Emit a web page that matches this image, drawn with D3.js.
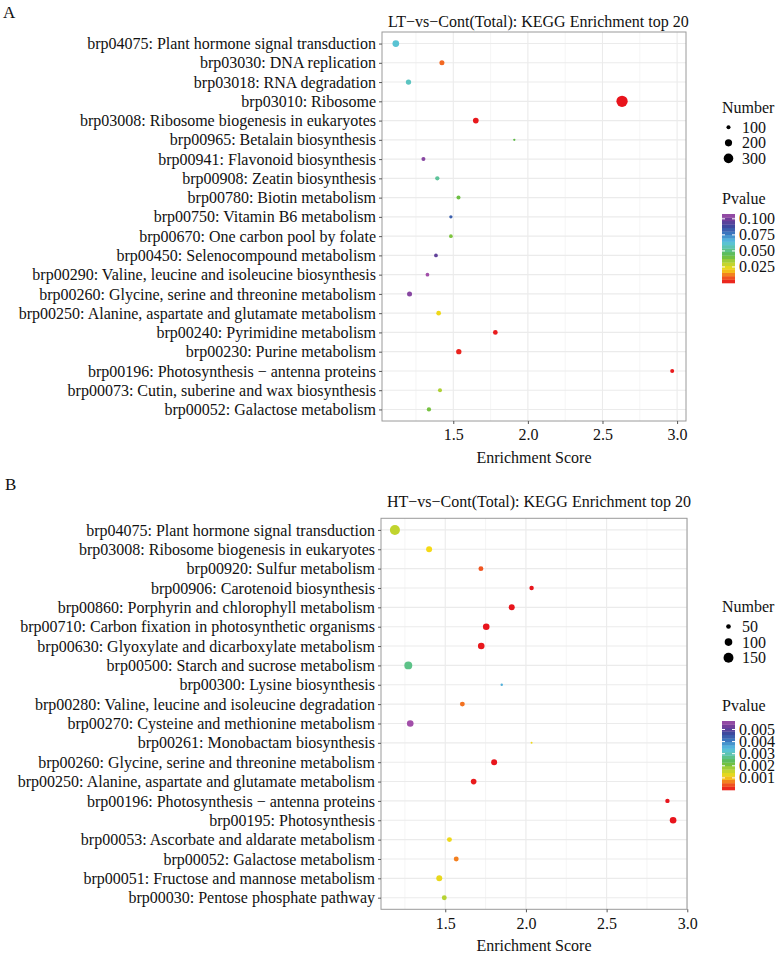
<!DOCTYPE html>
<html>
<head>
<meta charset="utf-8">
<script src="https://cdn.jsdelivr.net/npm/d3@7"></script>
<style>
html,body{margin:0;padding:0;background:#fff;}
svg{display:block;font-family:"Liberation Serif","Times New Roman",serif;}
</style>
</head>
<body>
<svg id="chart" width="778" height="954"></svg>
<script>
// ---------- Panel A data ----------
const titleA = "LT\u2212vs\u2212Cont(Total): KEGG Enrichment top 20";
const categoriesA = [
  "brp04075: Plant hormone signal transduction",
  "brp03030: DNA replication",
  "brp03018: RNA degradation",
  "brp03010: Ribosome",
  "brp03008: Ribosome biogenesis in eukaryotes",
  "brp00965: Betalain biosynthesis",
  "brp00941: Flavonoid biosynthesis",
  "brp00908: Zeatin biosynthesis",
  "brp00780: Biotin metabolism",
  "brp00750: Vitamin B6 metabolism",
  "brp00670: One carbon pool by folate",
  "brp00450: Selenocompound metabolism",
  "brp00290: Valine, leucine and isoleucine biosynthesis",
  "brp00260: Glycine, serine and threonine metabolism",
  "brp00250: Alanine, aspartate and glutamate metabolism",
  "brp00240: Pyrimidine metabolism",
  "brp00230: Purine metabolism",
  "brp00196: Photosynthesis \u2212 antenna proteins",
  "brp00073: Cutin, suberine and wax biosynthesis",
  "brp00052: Galactose metabolism"
];
const enrichA = [1.115, 1.424, 1.200, 2.631, 1.651, 1.909, 1.300, 1.393, 1.535, 1.484,
                 1.484, 1.384, 1.327, 1.207, 1.402, 1.782, 1.537, 2.967, 1.411, 1.337];
const numberA = [183, 128, 137, 382, 149, 60, 100, 108, 100, 82,
                 92, 92, 92, 128, 119, 119, 137, 100, 100, 108];
const pvalueA = [0.062, 0.011, 0.059, 0.00001, 0.0005, 0.043, 0.103, 0.053, 0.041, 0.083,
                 0.039, 0.096, 0.1075, 0.103, 0.0225, 0.001, 0.002, 0.0008, 0.033, 0.040];
const xTicksA = [1.5, 2.0, 2.5, 3.0];
const sizeLegendA = [100, 200, 300];
const pTicksA = [0.100, 0.075, 0.050, 0.025];

// ---------- Panel B data ----------
const titleB = "HT\u2212vs\u2212Cont(Total): KEGG Enrichment top 20";
const categoriesB = [
  "brp04075: Plant hormone signal transduction",
  "brp03008: Ribosome biogenesis in eukaryotes",
  "brp00920: Sulfur metabolism",
  "brp00906: Carotenoid biosynthesis",
  "brp00860: Porphyrin and chlorophyll metabolism",
  "brp00710: Carbon fixation in photosynthetic organisms",
  "brp00630: Glyoxylate and dicarboxylate metabolism",
  "brp00500: Starch and sucrose metabolism",
  "brp00300: Lysine biosynthesis",
  "brp00280: Valine, leucine and isoleucine degradation",
  "brp00270: Cysteine and methionine metabolism",
  "brp00261: Monobactam biosynthesis",
  "brp00260: Glycine, serine and threonine metabolism",
  "brp00250: Alanine, aspartate and glutamate metabolism",
  "brp00196: Photosynthesis \u2212 antenna proteins",
  "brp00195: Photosynthesis",
  "brp00053: Ascorbate and aldarate metabolism",
  "brp00052: Galactose metabolism",
  "brp00051: Fructose and mannose metabolism",
  "brp00030: Pentose phosphate pathway"
];
const enrichB = [1.188, 1.400, 1.721, 2.035, 1.912, 1.754, 1.723, 1.271, 1.850, 1.606,
                 1.283, 2.035, 1.803, 1.676, 2.877, 2.912, 1.526, 1.568, 1.463, 1.494];
const numberB = [152, 70, 54, 47, 70, 81, 81, 106, 24, 54,
                 81, 20, 70, 65, 47, 81, 54, 54, 70, 54];
const pvalueB = [0.0016, 0.00114, 0.00046, 0.00001, 0.0, 0.0, 0.00002, 0.0027, 0.0036, 0.00063,
                 0.0057, 0.0012, 0.00001, 0.00005, 0.0, 0.0, 0.0012, 0.0007, 0.00125, 0.0017];
const xTicksB = [1.5, 2.0, 2.5, 3.0];
const sizeLegendB = [50, 100, 150];
const pTicksB = [0.005, 0.004, 0.003, 0.002, 0.001];

// ---------- palette (low p -> high p) ----------
const paletteStops = [0, 0.10, 0.20, 0.30, 0.40, 0.50, 0.60, 0.72, 0.82, 0.92, 1];
const paletteColors = ["#E8141C", "#F26522", "#F5D916", "#B5D334", "#5DBB46", "#5DC4A0",
                       "#58C3E3", "#3B78C0", "#3C4A9E", "#6E3E99", "#A24FA9"];

const svg = d3.select("#chart");
svg.append("rect").attr("width", 778).attr("height", 954).attr("fill", "#fff");

function drawPanel(o) {
  const g = svg.append("g");
  const L = o.left, R = o.right, T = o.top, B = o.bottom;
  const ext = d3.extent(o.enrich);
  const pad = (ext[1] - ext[0]) * 0.05;
  const x = d3.scaleLinear().domain(o.xDomain || [ext[0] - pad, ext[1] + pad]).range([L, R]);
  const y = d3.scalePoint().domain(o.categories).range([T, B]).padding(0.6);
  const nExt = d3.extent(o.number);
  const r = d3.scaleSqrt().domain(nExt).range(o.rRange);
  const pExt = d3.extent(o.pvalue);
  const color = d3.scaleLinear()
    .domain(paletteStops.map(t => pExt[0] + t * (pExt[1] - pExt[0])))
    .range(paletteColors).interpolate(d3.interpolateRgb);

  // grid
  const minor = d3.range(1.25, 3.01, 0.5);
  g.selectAll(".minor").data(minor.filter(v => x(v) > L && x(v) < R)).enter().append("line")
    .attr("x1", d => x(d)).attr("x2", d => x(d)).attr("y1", T).attr("y2", B)
    .attr("stroke", "#EEEEEE").attr("stroke-width", 0.6);
  g.selectAll(".vmaj").data(o.xTicks.filter(v => x(v) > L && x(v) < R + 1)).enter().append("line")
    .attr("x1", d => x(d)).attr("x2", d => x(d)).attr("y1", T).attr("y2", B)
    .attr("stroke", "#EBEBEB").attr("stroke-width", 1.1);
  g.selectAll(".hmaj").data(o.categories).enter().append("line")
    .attr("x1", L).attr("x2", R).attr("y1", d => y(d)).attr("y2", d => y(d))
    .attr("stroke", "#EBEBEB").attr("stroke-width", 1.1);

  // points
  g.selectAll(".pt").data(o.categories).enter().append("circle")
    .attr("cx", (d, i) => x(o.enrich[i]))
    .attr("cy", d => y(d))
    .attr("r", (d, i) => r(o.number[i]))
    .attr("fill", (d, i) => color(o.pvalue[i]));

  // border
  g.append("rect").attr("x", L).attr("y", T).attr("width", R - L).attr("height", B - T)
    .attr("fill", "none").attr("stroke", "#9A9A9A").attr("stroke-width", 1);

  // y axis
  const ya = d3.axisLeft(y).tickSize(3).tickPadding(3);
  const yg = g.append("g").attr("transform", `translate(${L},0)`).call(ya);
  yg.select(".domain").remove();
  yg.selectAll(".tick line").attr("stroke", "#555");
  yg.selectAll(".tick text").attr("font-size", 16).attr("fill", "#111")
    .attr("font-family", "Liberation Serif");

  // x axis
  const xa = d3.axisBottom(x).tickValues(o.xTicks).tickFormat(d3.format(".1f")).tickSize(3).tickPadding(5);
  const xg = g.append("g").attr("transform", `translate(0,${B})`).call(xa);
  xg.select(".domain").remove();
  xg.selectAll(".tick line").attr("stroke", "#555");
  xg.selectAll(".tick text").attr("font-size", 16).attr("fill", "#111")
    .attr("font-family", "Liberation Serif");

  g.append("text").attr("x", (L + R) / 2).attr("y", o.xTitleY).attr("text-anchor", "middle")
    .attr("font-size", 16).attr("fill", "#111").text("Enrichment Score");
  g.append("text").attr("x", L + 6).attr("y", o.titleY)
    .attr("font-size", 16).attr("fill", "#111").text(o.title);
  g.append("text").attr("x", o.letterX).attr("y", o.letterY)
    .attr("font-size", 17).attr("fill", "#111").text(o.letter);

  // size legend
  const lx = 722;
  g.append("text").attr("x", lx).attr("y", o.numTitleY).attr("font-size", 16).attr("fill", "#111").text("Number");
  o.sizeLegend.forEach((v, i) => {
    const cy = o.numTitleY + 14.5 + i * 15.6;
    g.append("circle").attr("cx", 728.5).attr("cy", cy).attr("r", r(v)).attr("fill", "#000");
    g.append("text").attr("x", 742).attr("y", cy + 5.5).attr("font-size", 16).attr("fill", "#111").text(v);
  });

  // colorbar
  g.append("text").attr("x", lx).attr("y", o.pTitleY).attr("font-size", 16).attr("fill", "#111").text("Pvalue");
  const bTop = o.pTitleY + 10, bBot = bTop + 69;
  const cb = d3.scaleLinear().domain(pExt).range([bBot, bTop]);
  const nbin = 20;
  const bins = d3.range(nbin);
  const bh = (bBot - bTop) / nbin;
  g.selectAll(".bin").data(bins).enter().append("rect")
    .attr("x", lx).attr("width", 13)
    .attr("y", d => bBot - (d + 1) * bh).attr("height", bh + 0.3)
    .attr("fill", d => color(pExt[0] + (d + 0.5) / nbin * (pExt[1] - pExt[0])));
  o.pTicks.forEach(v => {
    const ty = cb(v);
    g.append("line").attr("x1", lx).attr("x2", lx + 3).attr("y1", ty).attr("y2", ty).attr("stroke", "#fff").attr("stroke-width", 1);
    g.append("line").attr("x1", lx + 10).attr("x2", lx + 13).attr("y1", ty).attr("y2", ty).attr("stroke", "#fff").attr("stroke-width", 1);
    g.append("text").attr("x", 739).attr("y", ty + 5.5).attr("font-size", 16).attr("fill", "#111")
      .text(d3.format(o.pFormat)(v));
  });
}

drawPanel({
  letter: "A", letterX: 3, letterY: 18,
  title: titleA, titleY: 27,
  categories: categoriesA, enrich: enrichA, number: numberA, pvalue: pvalueA,
  xTicks: xTicksA, sizeLegend: sizeLegendA, pTicks: pTicksA, pFormat: ".3f",
  left: 382, right: 686, top: 32, bottom: 421,
  xTitleY: 463, rRange: [1.15, 5.65],
  numTitleY: 112.7, pTitleY: 204
});

drawPanel({
  letter: "B", letterX: 5, letterY: 490,
  title: titleB, titleY: 506.5,
  categories: categoriesB, enrich: enrichB, number: numberB, pvalue: pvalueB,
  xTicks: xTicksB, sizeLegend: sizeLegendB, pTicks: pTicksB, pFormat: ".3f",
  left: 381, right: 687, top: 518.3, bottom: 909.3,
  xTitleY: 950.5, rRange: [1.0, 5.0],
  numTitleY: 612, pTitleY: 711
});
</script>
</body>
</html>
